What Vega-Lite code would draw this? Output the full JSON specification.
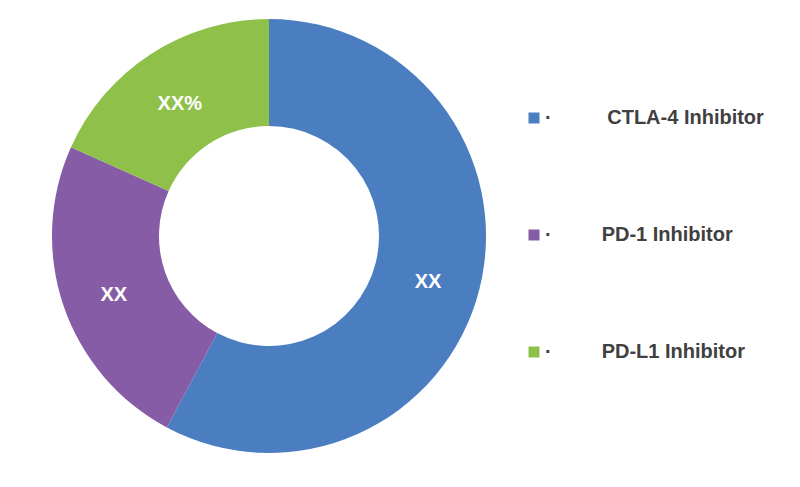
{
  "$schema": "https://vega.github.io/schema/vega-lite/v6.json",
  "width": 538,
  "height": 472,
  "padding": 0,
  "background": "white",
  "config": {
    "view": {"stroke": null},
    "font": "Liberation Sans"
  },
  "data": {
    "values": [
      {"segment": "CTLA-4 Inhibitor", "share": 57.8, "label": "XX"},
      {"segment": "PD-1 Inhibitor", "share": 23.9, "label": "XX"},
      {"segment": "PD-L1 Inhibitor", "share": 18.3, "label": "XX%"}
    ]
  },
  "encoding": {
    "theta": {"field": "share", "type": "quantitative", "stack": true},
    "color": {
      "field": "segment",
      "type": "nominal",
      "scale": {
        "domain": ["CTLA-4 Inhibitor", "PD-1 Inhibitor", "PD-L1 Inhibitor"],
        "range": ["#4a7ec1", "#875ca6", "#8fc04a"]
      },
      "legend": {
        "title": null,
        "orient": "none",
        "legendX": 524,
        "legendY": 108,
        "direction": "vertical",
        "symbolType": "square",
        "symbolSize": 121,
        "symbolStrokeWidth": 0,
        "rowPadding": 97,
        "labelOffset": 1,
        "labelFont": "Liberation Sans",
        "labelFontSize": 20,
        "labelFontWeight": "bold",
        "labelColor": "#404040",
        "labelLimit": 400,
        "labelExpr": "'·' + (datum.label == 'CTLA-4 Inhibitor' ? '\u00a0\u00a0\u00a0\u00a0\u00a0\u00a0\u00a0\u00a0\u00a0\u00a0' : '\u00a0\u00a0\u00a0\u00a0\u00a0\u00a0\u00a0\u00a0\u00a0') + datum.label"
      }
    }
  },
  "layer": [
    {
      "mark": {"type": "arc", "outerRadius": 217, "innerRadius": 110}
    },
    {
      "mark": {
        "type": "text",
        "radius": 164,
        "dy": 6,
        "fontSize": 20,
        "fontWeight": "bold",
        "color": "white"
      },
      "encoding": {
        "text": {"field": "label", "type": "nominal"},
        "color": {"value": "white"}
      }
    }
  ]
}
